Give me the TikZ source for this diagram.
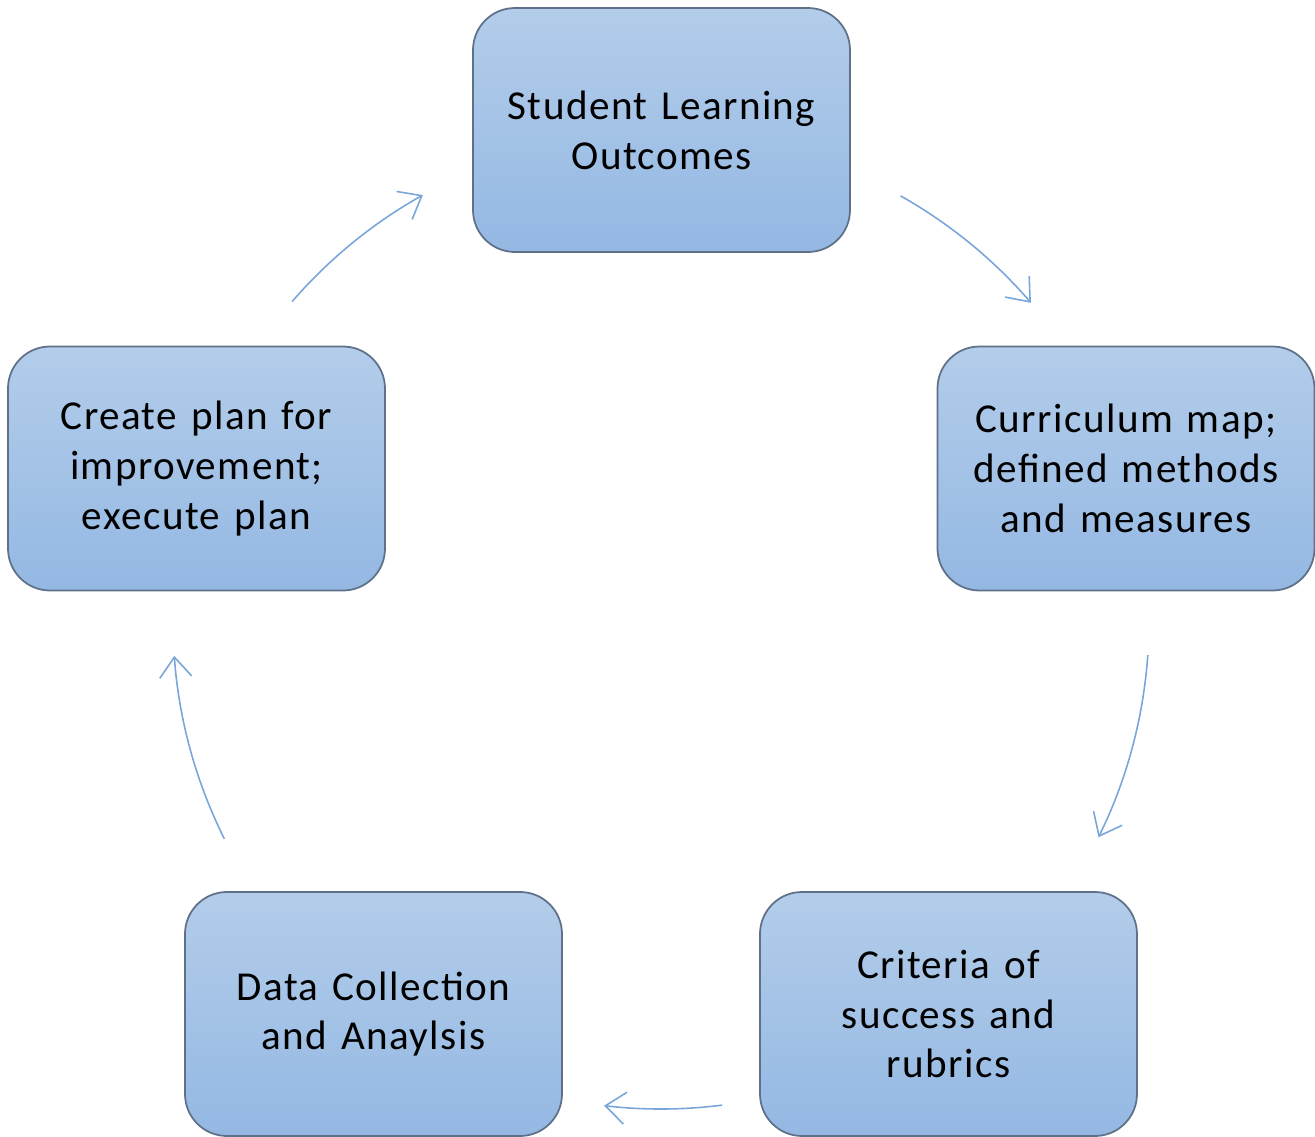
\documentclass[tikz,border=0pt]{standalone}
\usepackage{fontspec}
\setmainfont{Carlito}
\newfontfamily\boxfont[LetterSpace=3.5,WordSpace=1.3]{Carlito}
\usetikzlibrary{arrows.meta,calc}

\definecolor{boxtop}{HTML}{B3CDEA}
\definecolor{boxbot}{HTML}{94B8E3}
\definecolor{boxline}{HTML}{5F7189}
\definecolor{flowblue}{HTML}{79A6DA}

\tikzset{
  stage/.style={draw=boxline, line width=0.5pt, rounded corners=0.42cm,
    top color=boxtop, bottom color=boxbot, minimum width=3.77cm,
    minimum height=2.44cm, align=center,
    font=\boxfont\fontsize{11.7}{14.2}\selectfont},
  flow/.style={flowblue, line width=0.45pt,
    -{Straight Barb[length=2mm,width=3.2mm]}}
}

\begin{document}
\begin{tikzpicture}
    \useasboundingbox (0,0) rectangle (13.15,-11.37);

    \node[stage] (slo)  at (6.615,-1.30)  {Student Learning\\Outcomes};
    \node[stage] (cur)  at (11.26,-4.685) {Curriculum map;\\defined methods\\and measures};
    \node[stage] (crit) at (9.485,-10.14) {Criteria of\\success and\\rubrics};
    \node[stage] (data) at (3.735,-10.14) {Data Collection\\and Anaylsis};
    \node[stage] (plan) at (1.965,-4.685) {Create plan for\\improvement;\\execute plan};

    % the cycle runs on one big circle round the middle
    \coordinate (mid) at (6.61,-6.21);
    \foreach \name/\from/\to in {a1/60.6/40.7, a2/-4/-26.3, a3/-82.8/-96.7,
                                 a4/206.5/184.1, a5/139.1/119.2} {
        \coordinate (\name) at ($(mid)+(\from:4.88)$);
        \draw[flow] (\name) arc[start angle=\from, end angle=\to, radius=4.88];
    };
\end{tikzpicture}
\end{document}
